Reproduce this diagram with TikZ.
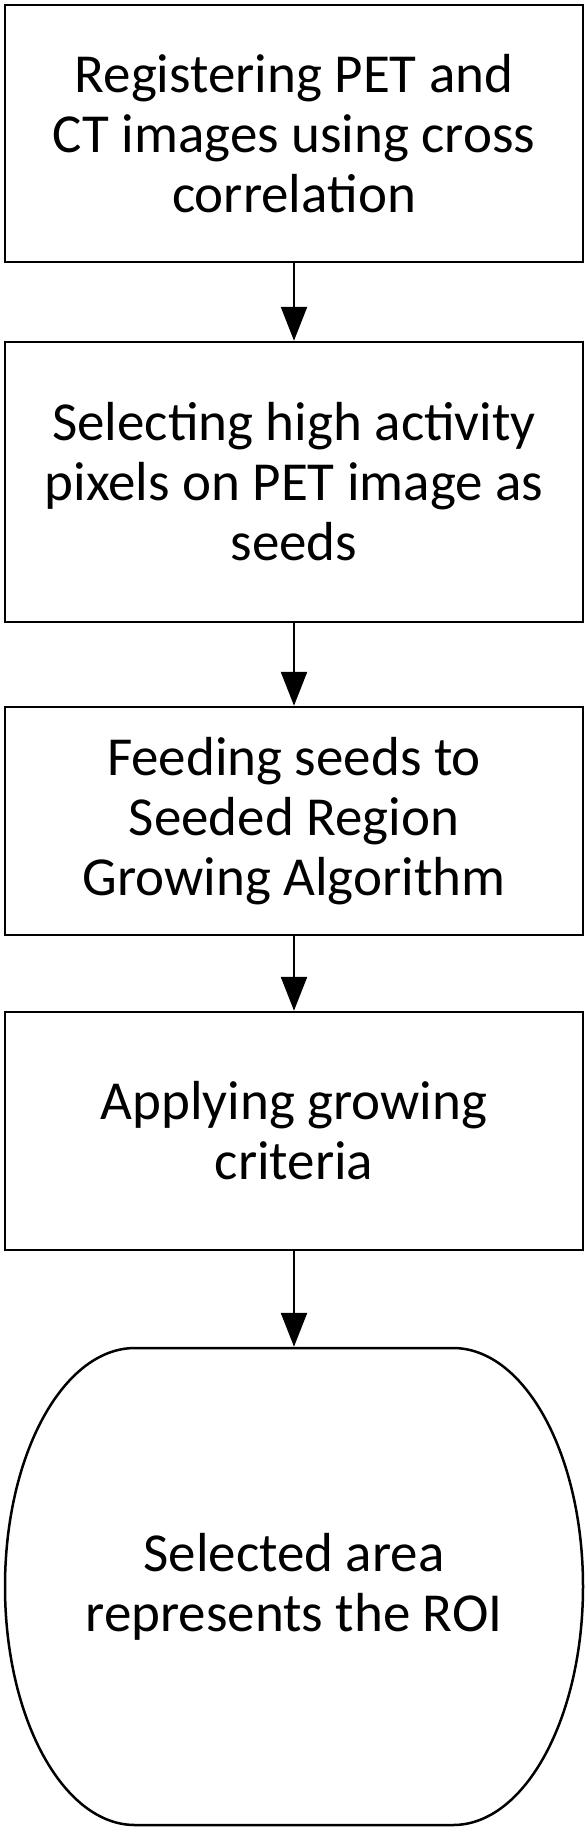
\documentclass[tikz,border=0pt]{standalone}
\usepackage{fontspec}
\setmainfont{Carlito}
\usetikzlibrary{arrows.meta}
\begin{document}
\begin{tikzpicture}[x=1pt,y=-1pt,
  box/.style={draw,line width=2.5pt,minimum width=578pt,align=center,font=\fontsize{55}{60}\selectfont,inner sep=0pt},
  arr/.style={line width=2.5pt,-{Triangle[width=26pt,length=34pt]}}]
\useasboundingbox (0,0) rectangle (588,1832);
\node[box,minimum height=257pt] (a) at (294,133.5) {Registering PET and\\CT images using cross\\correlation};
\node[box,minimum height=280pt] (b) at (294,482) {Selecting high activity\\pixels on PET image as\\seeds};
\node[box,minimum height=228pt] (c) at (294,821) {Feeding seeds to\\Seeded Region\\Growing Algorithm};
\node[box,minimum height=238pt] (d) at (294,1131) {Applying growing\\criteria};
\node[box,draw=none,minimum height=477pt] (e) at (294,1586.5) {Selected area\\represents the ROI};
\draw[line width=2.5pt] (135,1348) -- (453,1348) arc[start angle=90,end angle=0,x radius=130pt,y radius=238.5pt]
  arc[start angle=0,end angle=-90,x radius=130pt,y radius=238.5pt] -- (135,1825)
  arc[start angle=-90,end angle=-180,x radius=130pt,y radius=238.5pt]
  arc[start angle=-180,end angle=-270,x radius=130pt,y radius=238.5pt] -- cycle;
\draw[arr] (a) -- (b);
\draw[arr] (b) -- (c);
\draw[arr] (c) -- (d);
\draw[arr] (d) -- (e);
\end{tikzpicture}
\end{document}
